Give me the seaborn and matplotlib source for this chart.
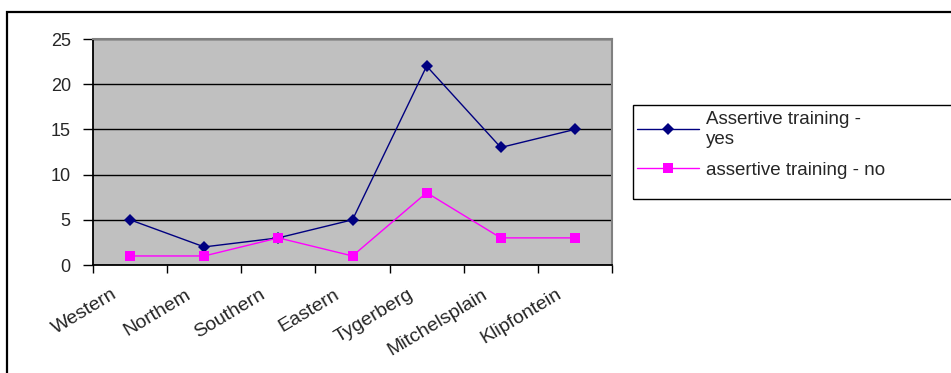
import numpy as np
import pandas as pd
import matplotlib
matplotlib.use("Agg")
import matplotlib.pyplot as plt
import matplotlib.transforms as mtransforms
from matplotlib.patches import Rectangle
from matplotlib.lines import Line2D
import seaborn as sns

# Data
regions = ["Western", "Northem", "Southern", "Eastern", "Tygerberg", "Mitchelsplain", "Klipfontein"]
yes_counts = [5, 2, 3, 5, 22, 13, 15]
no_counts = [1, 1, 3, 1, 8, 3, 3]
series_names = ["Assertive training -\nyes", "assertive training - no"]
y_ticks = [0, 5, 10, 15, 20, 25]

sns.set_theme(style="white")
plt.rcParams["font.family"] = ["Liberation Sans", "DejaVu Sans"]

W, H, DPI = 951, 373, 100
fig = plt.figure(figsize=(W / DPI, H / DPI), dpi=DPI)
fig.patch.set_facecolor("white")

# plot area in pixel coordinates
left, right, top, bottom = 93, 612, 39, 265
ax = fig.add_axes([left / W, 1 - bottom / H, (right - left) / W, (bottom - top) / H])
ax.set_facecolor("#C0C0C0")

pos = np.arange(len(regions))
df = pd.DataFrame({
    "pos": np.concatenate([pos, pos]),
    "count": yes_counts + no_counts,
    "series": [series_names[0]] * len(regions) + [series_names[1]] * len(regions),
})

colors = {series_names[0]: "#000080", series_names[1]: "#FF00FF"}
markers = {series_names[0]: "D", series_names[1]: "s"}

sns.lineplot(data=df, x="pos", y="count", hue="series", style="series",
             palette=colors, markers=markers, dashes=False, linewidth=1.0,
             markersize=6.5, markeredgewidth=0, legend=False, ax=ax, zorder=3)

ax.set_xlim(-0.5, len(regions) - 0.5)
ax.set_ylim(0, 25)
ax.set_xlabel("")
ax.set_ylabel("")

# horizontal gridlines
ax.set_yticks(y_ticks)
ax.set_yticklabels([str(v) for v in y_ticks], fontsize=13)
ax.yaxis.grid(True, color="black", linewidth=1.0)
ax.xaxis.grid(False)
ax.set_axisbelow(True)

# category boundaries as major ticks, names as minor ticks
ax.set_xticks(np.arange(len(regions) + 1) - 0.5)
ax.set_xticklabels([])
ax.set_xticks(pos, regions, minor=True)
ax.tick_params(axis="x", which="major", direction="out", length=6, width=1, color="black", bottom=True)
ax.tick_params(axis="x", which="minor", length=0, pad=15, labelsize=14)
ax.tick_params(axis="y", direction="out", length=7, width=1, color="black", left=True, pad=9)

offset = mtransforms.ScaledTranslation(-19 / DPI, 0, fig.dpi_scale_trans)
for lab in ax.get_xticklabels(minor=True):
    lab.set_rotation(31)
    lab.set_ha("right")
    lab.set_va("top")
    lab.set_rotation_mode("anchor")
    lab.set_transform(lab.get_transform() + offset)

for side in ["left", "bottom"]:
    ax.spines[side].set_color("black")
    ax.spines[side].set_linewidth(1.3)
for side in ["top", "right"]:
    ax.spines[side].set_color("#808080")
    ax.spines[side].set_linewidth(1.5)

# legend: frame drawn as its own box, entries placed at its top
lx0, ly0, lx1, ly1 = 633, 105, 965, 199
fig.patches.append(Rectangle((lx0 / W, 1 - ly1 / H), (lx1 - lx0) / W, (ly1 - ly0) / H,
                             transform=fig.transFigure, fill=False,
                             edgecolor="black", linewidth=1.0))
handles = [
    Line2D([], [], color=colors[s], marker=markers[s], markersize=6.5,
           markeredgewidth=0, linewidth=1.0)
    for s in series_names
]
leg = fig.legend(handles, series_names, loc="upper left",
                 bbox_to_anchor=(lx0 / W + 4 / W, 1 - ly0 / H - 6 / H),
                 fontsize=13.5, frameon=False,
                 handlelength=3.3, handletextpad=0.4, borderpad=0.0,
                 labelspacing=0.75, borderaxespad=0)

# outer chart frame
fig.patches.append(Rectangle((7 / W, -0.05), 1.0, 1 - 12 / H + 0.05,
                             transform=fig.transFigure, fill=False,
                             edgecolor="black", linewidth=1.6, zorder=0))

fig.savefig("out.png", dpi=DPI, facecolor="white")
